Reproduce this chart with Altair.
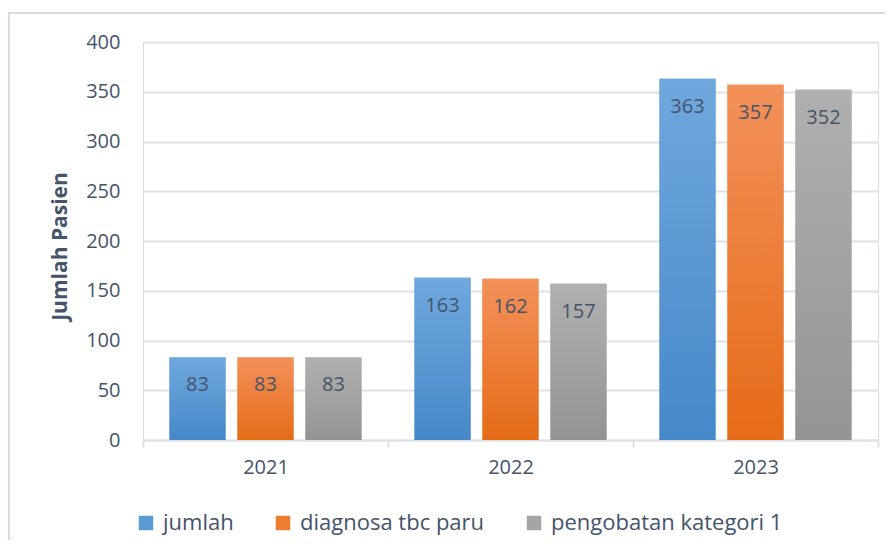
import altair as alt
import pandas as pd

years = ["2021", "2022", "2023"]
series = ["jumlah", "diagnosa tbc paru", "pengobatan kategori 1"]
jumlah = [83, 163, 363]
diagnosa = [83, 162, 357]
pengobatan = [83, 157, 352]

solid = ["#5b9bd5", "#ed7d31", "#a5a5a5"]
grad_top = ["#6fa8de", "#f3915a", "#b0b0b0"]
grad_bot = ["#4688c8", "#e56b17", "#949494"]

rows = []
for s, vals in zip(series, [jumlah, diagnosa, pengobatan]):
    for y, v in zip(years, vals):
        rows.append({"year": y, "series": s, "value": v})
df = pd.DataFrame(rows)

FONT = "Open Sans"
TXT = "#44546a"
GRID = "#dde2e9"

x_enc = alt.X(
    "year:N",
    sort=years,
    scale=alt.Scale(paddingInner=0, paddingOuter=0),
    axis=alt.Axis(
        title=None, labelAngle=0, tickBand="extent", ticks=True, tickSize=7,
        tickColor=GRID, tickWidth=2, domainColor=GRID, domainWidth=2,
        labelPadding=10, labelFont=FONT, labelFontSize=20, labelColor=TXT, grid=False,
    ),
)
xo_enc = alt.XOffset(
    "series:N",
    scale=alt.Scale(domain=series, paddingInner=0.176, paddingOuter=0.39),
)
y_enc = alt.Y(
    "value:Q",
    scale=alt.Scale(domain=[0, 400], nice=False),
    axis=alt.Axis(
        title="Jumlah Pasien", values=list(range(0, 401, 50)), domain=False,
        ticks=False, tickSize=0, labelPadding=23, labelFont=FONT, labelFontSize=20,
        labelColor=TXT, gridColor=GRID, gridWidth=2,
        titleFont=FONT, titleFontSize=21, titleFontWeight="bold", titleColor=TXT,
        titleX=-83, titleY=204, titleAngle=-90, titleBaseline="middle", titleAlign="center",
    ),
)

base = alt.Chart(df).encode(x=x_enc, xOffset=xo_enc, y=y_enc)

legend_layer = base.mark_bar().encode(
    color=alt.Color(
        "series:N",
        scale=alt.Scale(domain=series, range=solid),
        legend=alt.Legend(
            title=None, orient="none", direction="horizontal", legendX=-8, legendY=470,
            symbolType="square", symbolSize=210, symbolStrokeWidth=0,
            labelFont=FONT, labelFontSize=22, labelColor=TXT, labelOffset=6,
            labelLimit=400, columnPadding=38,
        ),
    )
)

layers = [legend_layer]
for s, t, b in zip(series, grad_top, grad_bot):
    layers.append(
        base.transform_filter(alt.datum.series == s).mark_bar(
            color=alt.Gradient(
                gradient="linear", x1=0, y1=0, x2=0, y2=1,
                stops=[alt.GradientStop(color=t, offset=0), alt.GradientStop(color=b, offset=1)],
            )
        )
    )

labels = base.mark_text(
    baseline="middle", align="center", dy=28, font=FONT, fontSize=20, color=TXT
).encode(text="value:Q")
layers.append(labels)

frame = alt.Chart(pd.DataFrame({"a": [0]})).mark_rect(
    fill=None, stroke="#d6dce4", strokeWidth=2
).encode(x=alt.value(-134), x2=alt.value(800), y=alt.value(-29), y2=alt.value(560))

chart = alt.layer(frame, *layers).properties(
    width=735, height=398,
    autosize=alt.AutoSizeParams(type="none"),
    padding={"left": 135, "top": 34, "right": 7, "bottom": 100},
).configure_view(stroke=None).configure(background="white")

chart.save("out.html", embed_options={"renderer": "svg", "actions": False})
